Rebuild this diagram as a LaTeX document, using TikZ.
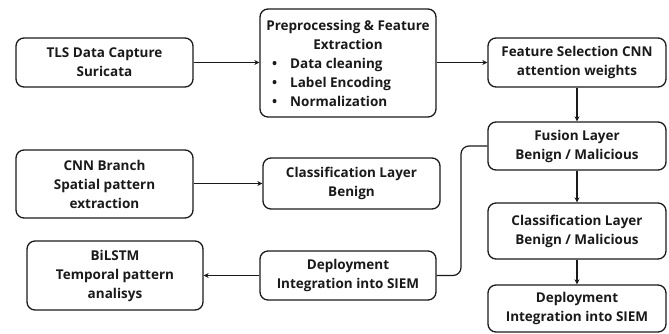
\documentclass[tikz,border=0pt]{standalone}
\usepackage{fontspec}
\setmainfont{Open Sans}
\usetikzlibrary{arrows.meta}
\definecolor{ink}{HTML}{1A1A1A}
\tikzset{
  box/.style={draw=ink, line width=1.3pt, rounded corners=8pt, align=center,
    font=\fontsize{13.5}{19}\selectfont\bfseries, text=ink, inner sep=0pt},
  txt/.style={font=\fontsize{13.5}{19}\selectfont\bfseries, text=ink, inner sep=0pt},
  conn/.style={draw=ink, line width=1.2pt, -{Stealth[length=5pt,width=5pt]}},
  link/.style={draw=ink, line width=1.2pt, rounded corners=8pt}
}
\begin{document}
\begin{tikzpicture}[x=1pt,y=-1pt]
\useasboundingbox (0,0) rectangle (669,333);
% top row
\node[box, minimum width=177pt, minimum height=49pt] (tls) at (104.5,62.5) {TLS Data Capture\\Suricata};
\node[box, minimum width=176pt, minimum height=108pt] (pre) at (348,63) {};
\node[txt, anchor=base] (pret1) at (348,30) {Preprocessing \& Feature};
\node[txt, anchor=base] (pret2) at (348,49) {Extraction};
\node[txt, anchor=base west] (pb1) at (272,68) {\makebox[18pt][l]{\textbullet}Data cleaning};
\node[txt, anchor=base west] (pb2) at (272,87) {\makebox[18pt][l]{\textbullet}Label Encoding};
\node[txt, anchor=base west] (pb3) at (272,106) {\makebox[18pt][l]{\textbullet}Normalization};
\node[box, minimum width=178pt, minimum height=49pt] (fs) at (577,62.5) {Feature Selection CNN\\attention weights};
% right column
\node[box, minimum width=178pt, minimum height=48pt] (fus) at (577,146) {Fusion Layer\\Benign / Malicious};
\node[box, minimum width=178pt, minimum height=56pt] (cls2) at (577,231) {Classification Layer\\Benign / Malicious};
\node[box, minimum width=178pt, minimum height=47pt] (dep2) at (577,308.5) {Deployment\\Integration into SIEM};
% left / middle
\node[box, minimum width=177pt, minimum height=68pt] (cnn) at (104.5,184) {CNN Branch\\Spatial pattern\\extraction};
\node[box, minimum width=177pt, minimum height=51pt] (cls1) at (351.5,183.5) {Classification Layer\\Benign};
\node[box, minimum width=176pt, minimum height=69pt] (bil) at (115,275.5) {BiLSTM\\Temporal pattern\\analisys};
\node[box, minimum width=176pt, minimum height=49pt] (dep1) at (348,275.5) {Deployment\\Integration into SIEM};
% connectors
\draw[conn] (tls.east) -- (pre.west|-tls.east);
\draw[conn] (pre.east|-fs.west) -- (fs.west);
\draw[conn] (fs.south) -- (fus.north);
\draw[conn] (fus.south) -- (cls2.north);
\draw[conn] (cls2.south) -- (dep2.north);
\draw[conn] (cnn.east|-cls1.west) -- (cls1.west);
\draw[conn] (dep1.west) -- (bil.east|-dep1.west);
\coordinate (cb) at (461,275.5);
\coordinate (ct) at (461,146);
\draw[link] (dep1.east) -- (cb) -- (ct) -- (fus.west);
\end{tikzpicture}
\end{document}
